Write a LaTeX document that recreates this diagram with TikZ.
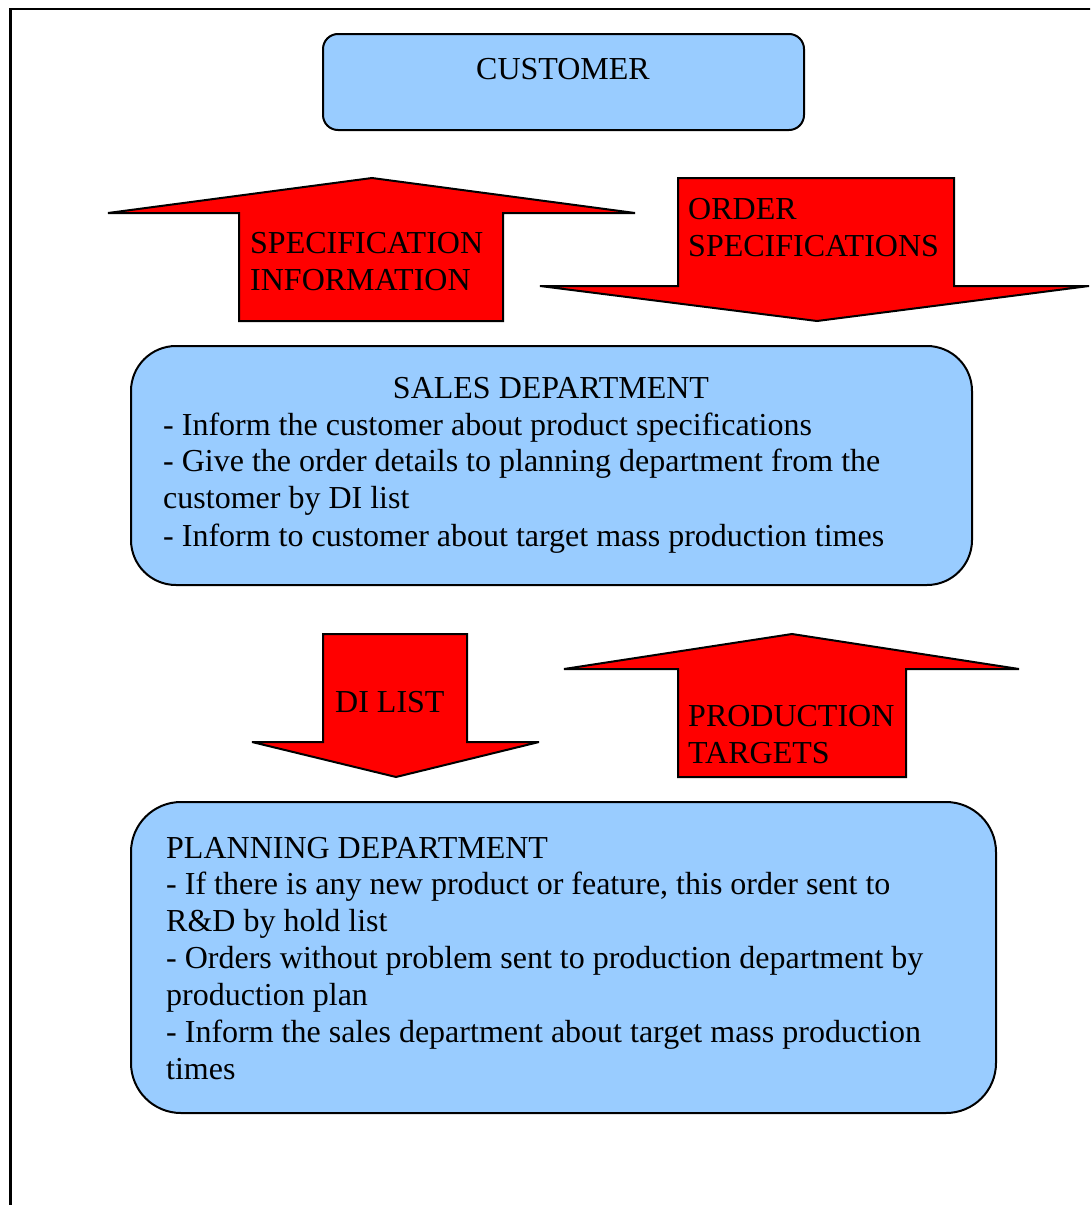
\documentclass[tikz,border=0pt]{standalone}
\usepackage{fontspec}
\setmainfont{Liberation Serif}
\begin{document}
\begin{tikzpicture}[x=1pt,y=-1pt,
  panel/.style={draw=black,line width=2pt,fill=boxblue},
  blockarrow/.style={draw=black,line width=2pt,fill=red,line join=miter,miter limit=4},
  txt/.style={anchor=base west,inner sep=0pt,font=\fontsize{32}{37}\selectfont},
  ctxt/.style={anchor=base,inner sep=0pt,font=\fontsize{32}{37}\selectfont}]
\definecolor{boxblue}{HTML}{99CCFF}
\useasboundingbox (0,0) rectangle (1090,1205);
\clip (0,0) rectangle (1090,1205);
% page frame
\draw[line width=2.5pt] (10.5,1230) -- (10.5,9) -- (1110,9);

% customer
\draw[panel,rounded corners=15pt] (323,34) rectangle (804,130);
\node[ctxt] (cust) at (563,79) {CUSTOMER};

% specification information (upward)
\draw[blockarrow] (372,178) -- (635,213) -- (503,213) -- (503,321) -- (239,321) -- (239,213) -- (108,213) -- cycle;
\node[txt] (spec1) at (250,253) {SPECIFICATION};
\node[txt] (spec2) at (250,290) {INFORMATION};

% order specifications (downward)
\draw[blockarrow] (678,178) -- (954,178) -- (954,286) -- (1089,286) -- (817,321) -- (540,286) -- (678,286) -- cycle;
\node[txt] (ord1) at (688,219) {ORDER};
\node[txt] (ord2) at (688,256) {SPECIFICATIONS};

% sales department
\draw[panel,rounded corners=45pt] (131,346) rectangle (972,585);
\node[ctxt] (sales) at (551,398) {SALES DEPARTMENT};
\node[txt] (s1) at (163,435) {- Inform the customer about product specifications};
\node[txt] (s2) at (163,471) {- Give the order details to planning department from the};
\node[txt] (s3) at (163,508) {customer by DI list};
\node[txt] (s4) at (163,546) {- Inform to customer about target mass production times};

% DI list (downward)
\draw[blockarrow] (323,634) -- (467,634) -- (467,742) -- (539,742) -- (396,777) -- (252,742) -- (323,742) -- cycle;
\node[txt] (di) at (335,712) {DI LIST};

% production targets (upward)
\draw[blockarrow] (792,634) -- (1019,669) -- (906,669) -- (906,777) -- (678,777) -- (678,669) -- (564,669) -- cycle;
\node[txt] (pt1) at (688,726) {PRODUCTION};
\node[txt] (pt2) at (688,763) {TARGETS};

% planning department
\draw[panel,rounded corners=50pt] (131,802) rectangle (996,1113);
\node[txt] (p0) at (166,858) {PLANNING DEPARTMENT};
\node[txt] (p1) at (166,894) {- If there is any new product or feature, this order sent to};
\node[txt] (p2) at (166,931) {R\&D by hold list};
\node[txt] (p3) at (166,968) {- Orders without problem sent to production department by};
\node[txt] (p4) at (166,1005) {production plan};
\node[txt] (p5) at (166,1042) {- Inform the sales department about target mass production};
\node[txt] (p6) at (166,1079) {times};
\end{tikzpicture}
\end{document}
